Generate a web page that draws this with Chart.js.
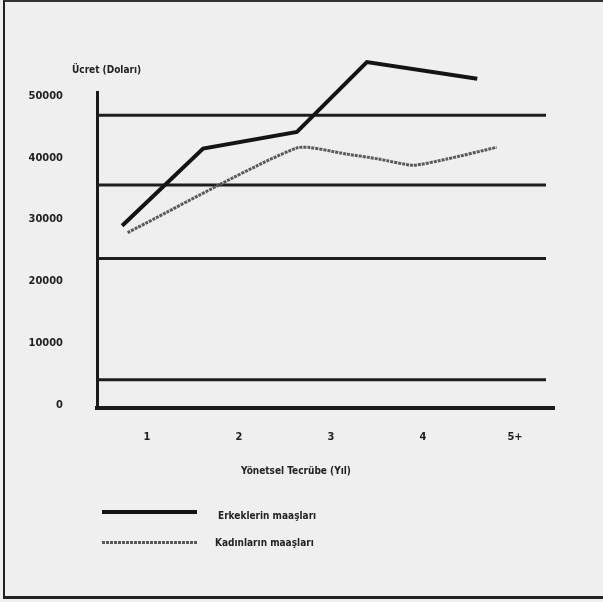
<!DOCTYPE html>
<html><head><meta charset="utf-8">
<script src="https://cdn.jsdelivr.net/npm/chart.js@4/dist/chart.umd.min.js"></script>
<style>
html,body{margin:0;padding:0;background:#efefef;}
#wrap{position:relative;width:603px;height:602px;overflow:hidden;background:#efefef;}
#frame{position:absolute;left:3px;top:0;width:600px;height:599px;border-left:2px solid #222;border-top:2px solid #333;border-bottom:3px solid #222;box-sizing:border-box;pointer-events:none;}
canvas{position:absolute;left:0;top:0;}
.lg{position:absolute;font-family:"Liberation Sans Narrow","DejaVu Sans Condensed",sans-serif;font-weight:bold;font-size:10px;color:#222;line-height:14px;white-space:nowrap;}
.sw{position:absolute;width:95px;}
</style></head>
<body>
<div id="wrap">
<canvas id="c" width="603" height="602"></canvas>
<div id="frame"></div>
<div id="ytitle" class="lg" style="left:72px;top:63px;">Ücret (Doları)</div>
<div id="xtitle" class="lg" style="left:196px;width:200px;text-align:center;top:464px;">Yönetsel Tecrübe (Yıl)</div>
<div id="legend"></div>
</div>
<script>
// Kategoriler (Yönetsel tecrübe, yıl) ve etiketleri
const kategoriler = [1, 2, 3, 4, 5];
const kategoriEtiketleri = ['1', '2', '3', '4', '5+'];
// Y ekseni etiketleri (Ücret, dolar)
const yEtiketleri = [0, 10000, 20000, 30000, 40000, 50000];
// Erkeklerin maaşları
const erkekX = [0.73, 1.61, 2.63, 3.39, 4.59];
const erkekY = [29000, 41500, 44200, 55500, 52800];
// Kadınların maaşları
const kadinX = [0.79, 2.63, 3.17, 3.52, 3.89, 4.26, 4.80];
const kadinY = [27900, 41600, 40600, 39800, 38800, 39800, 41700];
// Yatay çizgiler (orijinal grafikteki)
const yatayCizgiler = [46900, 35600, 23700, 4100];
const cizgiBaslangic = 0.457;
const cizgiBitis = 5.337;

const FAM = '"Liberation Sans Narrow","DejaVu Sans Condensed",sans-serif';
const fnt = {family: FAM, weight: 'bold', size: 11};

const datasets = [
  {label: 'Erkeklerin maaşları', data: erkekX.map((x, i) => ({x, y: erkekY[i]})),
   borderColor: '#141414', borderWidth: 4, pointRadius: 0, clip: false, tension: 0,
   borderJoinStyle: 'miter', borderCapStyle: 'butt', sw: 'solid'},
  {label: 'Kadınların maaşları', data: kadinX.map((x, i) => ({x, y: kadinY[i]})),
   borderColor: '#5a5a5a', borderWidth: 3, borderDash: [3, 1], pointRadius: 0, clip: false, tension: 0.2, sw: 'dash'}
];
yatayCizgiler.forEach(v => datasets.push({
  label: '', yardimci: true,
  data: [{x: cizgiBaslangic, y: v}, {x: cizgiBitis, y: v}],
  borderColor: '#1e1e1e', borderWidth: 3, pointRadius: 0
}));

const chart = new Chart(document.getElementById('c'), {
  type: 'line',
  data: {datasets},
  options: {
    responsive: false, animation: false, devicePixelRatio: 1,
    layout: {padding: {left: 28, right: 49, top: 92, bottom: 159}},
    plugins: {legend: {display: false}, tooltip: {enabled: false}, title: {display: false}},
    scales: {
      x: {
        type: 'linear', min: 0.457, max: 5.424,
        afterBuildTicks: s => { s.ticks = kategoriler.map(v => ({value: v})); },
        afterFit: s => { s.height = 35; },
        ticks: {callback: v => kategoriEtiketleri[kategoriler.indexOf(v)] ?? '', padding: 23,
                color: '#222', font: fnt, maxRotation: 0, autoSkip: false},
        grid: {display: false, drawTicks: false},
        border: {display: true, color: '#1a1a1a', width: 4}
      },
      y: {
        type: 'linear', min: -490, max: 50650,
        afterBuildTicks: s => { s.ticks = yEtiketleri.map(v => ({value: v})); },
        afterFit: s => { s.width = 69; },
        ticks: {callback: v => String(v), padding: 34, crossAlign: 'near', color: '#222', font: fnt, autoSkip: false},
        grid: {display: false, drawTicks: false},
        border: {display: true, color: '#1a1a1a', width: 3}
      }
    }
  }
});

// HTML lejant (veri setlerinden)
const legend = document.getElementById('legend');
const konum = [{lineY: 512, textX: 218, textY: 516}, {lineY: 542, textX: 215, textY: 543}];
chart.data.datasets.filter(d => !d.yardimci).forEach((d, i) => {
  const k = konum[i];
  const sw = document.createElement('div');
  sw.className = 'sw';
  const h = d.borderWidth;
  sw.style.left = '102px';
  sw.style.top = (k.lineY - h / 2) + 'px';
  sw.style.height = h + 'px';
  sw.style.background = d.sw === 'dash'
    ? 'repeating-linear-gradient(90deg,' + d.borderColor + ' 0 3px, transparent 3px 4px)'
    : d.borderColor;
  legend.appendChild(sw);
  const t = document.createElement('div');
  t.className = 'lg';
  t.textContent = d.label;
  t.style.left = k.textX + 'px';
  t.style.top = (k.textY - 7) + 'px';
  legend.appendChild(t);
});
</script>
</body></html>
